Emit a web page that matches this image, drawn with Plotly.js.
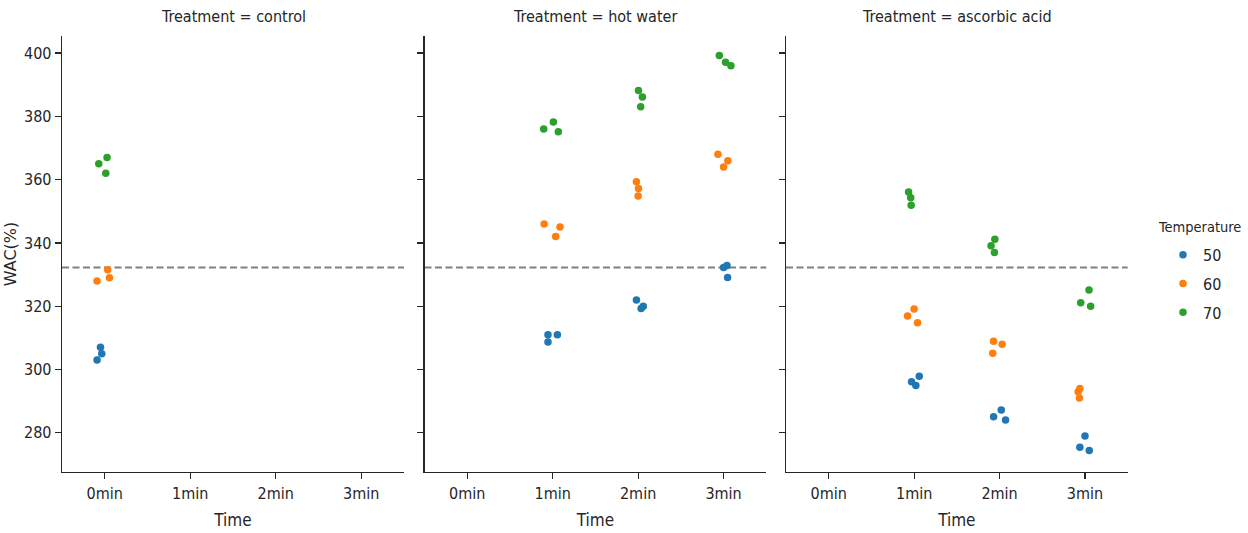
<!DOCTYPE html>
<html>
<head>
<meta charset="utf-8">
<script src="https://cdn.plot.ly/plotly-3.0.1.min.js"></script>
<style>html,body{margin:0;padding:0;background:#fff;}#chart{width:1248px;height:533px;}</style>
</head>
<body>
<div id="chart"></div>
<script>
// ---- data ----
const times = ['0min', '1min', '2min', '3min'];
const treatments = ['control', 'hot water', 'ascorbic acid'];
const temps = ['50', '60', '70'];
const colors = ['#1f77b4', '#ff7f0e', '#2ca02c'];
const baseline = 332.2;

// control (0min only)
const controlTime = ['0min', '0min', '0min'];
const control50 = [303, 307, 305];
const control60 = [328, 331.5, 329];
const control70 = [365, 367, 362];
const controlJit50 = [-0.09, -0.05, -0.035];
const controlJit60 = [-0.09, 0.035, 0.055];
const controlJit70 = [-0.07, 0.027, 0.012];

// hot water
const hotTime = ['1min', '1min', '1min', '2min', '2min', '2min', '3min', '3min', '3min'];
const hot50 = [311, 308.7, 311, 322, 319.3, 320, 332.2, 332.9, 329.1];
const hot60 = [346, 345, 342, 359.3, 357.2, 354.8, 368, 366, 364];
const hot70 = [376, 378.2, 375.1, 388.2, 386.1, 383, 399.2, 397.1, 396];
const hotJit50 = [-0.055, -0.055, 0.055, -0.02, 0.035, 0.06, 0.0, 0.04, 0.047];
const hotJit60 = [-0.1, 0.086, 0.035, -0.02, 0.004, 0.0, -0.066, 0.05, 0.0];
const hotJit70 = [-0.105, 0.008, 0.066, 0.004, 0.05, 0.03, -0.05, 0.023, 0.086];

// ascorbic acid
const ascTime = ['1min', '1min', '1min', '2min', '2min', '2min', '3min', '3min', '3min'];
const asc50 = [296.1, 294.9, 297.9, 285.1, 287.2, 284, 279, 275.4, 274.4];
const asc60 = [316.9, 319.1, 314.8, 308.9, 308, 305.1, 294, 293, 291];
const asc70 = [356.1, 354.3, 351.9, 341.2, 339.1, 337, 325.1, 321.1, 320];
const ascJit50 = [-0.03, 0.02, 0.06, -0.07, 0.02, 0.07, 0.0, -0.06, 0.05];
const ascJit60 = [-0.077, 0.0, 0.04, -0.07, 0.03, -0.08, -0.06, -0.08, -0.065];
const ascJit70 = [-0.065, -0.04, -0.035, -0.055, -0.1, -0.06, 0.047, -0.05, 0.066];

const panels = [
  {time: controlTime, vals: [control50, control60, control70], jit: [controlJit50, controlJit60, controlJit70]},
  {time: hotTime, vals: [hot50, hot60, hot70], jit: [hotJit50, hotJit60, hotJit70]},
  {time: ascTime, vals: [asc50, asc60, asc70], jit: [ascJit50, ascJit60, ascJit70]}
];

// ---- build traces ----
const FONT = '"DejaVu Sans Condensed", "DejaVu Sans", sans-serif';
const TXT = '#262626';
const traces = [];
panels.forEach((p, pi) => {
  const ax = pi === 0 ? '' : String(pi + 1);
  temps.forEach((t, ti) => {
    traces.push({
      type: 'scatter',
      mode: 'markers',
      x: p.time.map((tm, i) => times.indexOf(tm) + p.jit[ti][i]),
      y: p.vals[ti],
      xaxis: 'x' + ax,
      yaxis: 'y' + ax,
      name: t,
      legendgroup: t,
      showlegend: pi === 0,
      marker: {color: colors[ti], size: 7.5, line: {width: 0}},
      hoverinfo: 'x+y'
    });
  });
});

const W = 1248;
const domains = [[62 / W, 404 / W], [424.5 / W, 766.3 / W], [786 / W, 1127.7 / W]];
const yRange = [267.6, 405.4];

function xAxis(i) {
  return {
    domain: domains[i],
    anchor: i === 0 ? 'y' : 'y' + (i + 1),
    range: [-0.5, 3.5],
    tickmode: 'array',
    tickvals: times.map((t, k) => k),
    ticktext: times,
    showgrid: false, zeroline: false,
    showline: true, linecolor: TXT, linewidth: 1.3,
    ticks: 'outside', ticklen: 6, tickwidth: 1.2, tickcolor: TXT,
    tickfont: {family: FONT, size: 16, color: TXT},
    title: {text: 'Time', font: {family: FONT, size: 17, color: TXT}, standoff: 12},
    fixedrange: true
  };
}
function yAxis(i) {
  const a = {
    domain: [0, 1],
    anchor: i === 0 ? 'x' : 'x' + (i + 1),
    range: yRange,
    tickvals: [280, 300, 320, 340, 360, 380, 400],
    showgrid: false, zeroline: false,
    showline: true, linecolor: TXT, linewidth: 1.3,
    ticks: 'outside', ticklen: 6, tickwidth: 1.2, tickcolor: TXT,
    tickfont: {family: FONT, size: 16, color: TXT},
    showticklabels: i === 0,
    fixedrange: true
  };
  if (i === 0) a.title = {text: 'WAC(%)', font: {family: '"DejaVu Sans", sans-serif', size: 16, color: TXT}, standoff: 3};
  else a.matches = 'y';
  return a;
}

const layout = {
  width: 1248, height: 533,
  margin: {l: 0, r: 0, t: 36, b: 61},
  paper_bgcolor: '#ffffff', plot_bgcolor: '#ffffff',
  font: {family: FONT, color: TXT},
  showlegend: true,
  legend: {
    x: 1163 / W, xanchor: 'left', y: 0.537, yanchor: 'top',
    font: {family: FONT, size: 16, color: TXT},
    traceorder: 'grouped', tracegroupgap: 5,
    bgcolor: 'rgba(0,0,0,0)', borderwidth: 0
  },
  shapes: [],
  annotations: [{
    text: 'Temperature', xref: 'paper', yref: 'paper',
    x: 1156 / W, y: (472 - 227) / 436, xanchor: 'left', yanchor: 'middle',
    showarrow: false, font: {family: FONT, size: 14.5, color: TXT}
  }]
};
for (let i = 0; i < 3; i++) {
  const s = i === 0 ? '' : String(i + 1);
  layout['xaxis' + s] = xAxis(i);
  layout['yaxis' + s] = yAxis(i);
  layout.shapes.push({
    type: 'line', xref: 'x' + s + ' domain', yref: 'y' + s,
    x0: 0, x1: 1, y0: baseline, y1: baseline,
    line: {color: '#808080', width: 2, dash: '7px,3.5px'}, layer: 'below'
  });
  layout.annotations.push({
    text: 'Treatment = ' + treatments[i],
    xref: 'x' + s + ' domain', yref: 'paper', x: 0.5, y: 1,
    xanchor: 'center', yanchor: 'bottom', yshift: 8, showarrow: false,
    font: {family: FONT, size: 16, color: TXT}
  });
}

Plotly.newPlot('chart', traces, layout, {displayModeBar: false, staticPlot: true});
</script>
</body>
</html>
